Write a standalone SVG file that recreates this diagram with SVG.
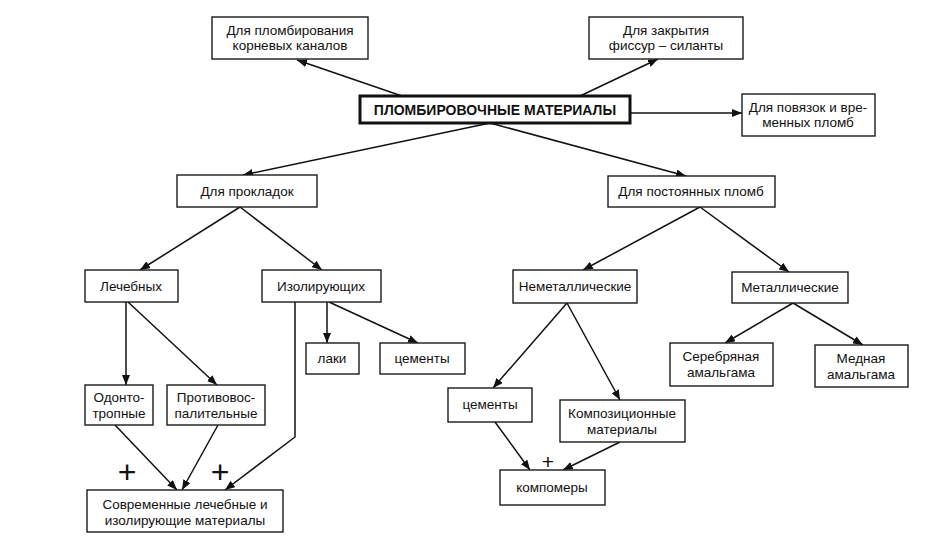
<svg xmlns="http://www.w3.org/2000/svg" width="946" height="546" viewBox="0 0 946 546">
<defs>
<marker id="ah" markerUnits="userSpaceOnUse" markerWidth="10" markerHeight="8" refX="10" refY="4" orient="auto">
<path d="M0,0 L10,4 L0,8 z" fill="#111"/>
</marker>
<style>
.b{fill:#fff;stroke:#1a1a1a;stroke-width:1.4}
.r{fill:#fff;stroke:#111;stroke-width:3}
.t{font-family:"Liberation Sans",Arial,sans-serif;font-size:13.5px;fill:#111;text-anchor:middle}
.tb{font-family:"Liberation Sans",Arial,sans-serif;font-size:14px;font-weight:bold;fill:#111;text-anchor:middle}
.c{fill:none;stroke:#111;stroke-width:1.5;marker-end:url(#ah)}
.p{font-family:"Liberation Sans",Arial,sans-serif;fill:#111;text-anchor:middle}
</style>
</defs>
<rect width="946" height="546" fill="#fff"/>
<g id="connectors">
<path class="c" d="M402,96 L297,60"/>
<path class="c" d="M580,96 L658,59"/>
<path class="c" d="M630,113 L742,113"/>
<path class="c" d="M490,123 L243,175"/>
<path class="c" d="M490,123 L686,176"/>
<path class="c" d="M240,207 L140,270"/>
<path class="c" d="M240,207 L322,270"/>
<path class="c" d="M700,207 L583,270"/>
<path class="c" d="M700,207 L789,272"/>
<path class="c" d="M126,302 L126,385"/>
<path class="c" d="M128,302 L217,385"/>
<path class="c" d="M327,302 L327,343"/>
<path class="c" d="M329,302 L418,343"/>
<path class="c" d="M295,302 L295,437 L225,490"/>
<path class="c" d="M115,425 L177,490"/>
<path class="c" d="M218,425 L182,490"/>
<path class="c" d="M567,303 L493,388"/>
<path class="c" d="M567,303 L620,400"/>
<path class="c" d="M495,422 L530,470"/>
<path class="c" d="M620,442 L563,470"/>
<path class="c" d="M793,303 L725,343"/>
<path class="c" d="M793,303 L863,345"/>
</g>
<g id="n_root"><rect class="r" x="360" y="96" width="270" height="27"/><text class="tb" x="495" y="115">ПЛОМБИРОВОЧНЫЕ МАТЕРИАЛЫ</text></g>
<g id="n_kornevye"><rect class="b" x="212" y="17" width="156" height="42"/><text class="t" x="290" y="35">Для пломбирования</text><text class="t" x="290" y="50">корневых каналов</text></g>
<g id="n_fissury"><rect class="b" x="589" y="17" width="154" height="42"/><text class="t" x="666" y="35">Для закрытия</text><text class="t" x="666" y="50">фиссур – силанты</text></g>
<g id="n_povyazki"><rect class="b" x="742" y="94" width="133" height="42"/><text class="t" x="808" y="112">Для повязок и вре-</text><text class="t" x="808" y="127">менных пломб</text></g>
<g id="n_prokladki"><rect class="b" x="177" y="175" width="140" height="32"/><text class="t" x="247" y="196">Для прокладок</text></g>
<g id="n_postoyannye"><rect class="b" x="608" y="176" width="167" height="31"/><text class="t" x="691" y="196">Для постоянных пломб</text></g>
<g id="n_lechebnye"><rect class="b" x="85" y="270" width="93" height="32"/><text class="t" x="131" y="291">Лечебных</text></g>
<g id="n_izol"><rect class="b" x="262" y="270" width="119" height="32"/><text class="t" x="321" y="291">Изолирующих</text></g>
<g id="n_nemet"><rect class="b" x="513" y="270" width="124" height="33"/><text class="t" x="575" y="291">Неметаллические</text></g>
<g id="n_met"><rect class="b" x="732" y="272" width="116" height="31"/><text class="t" x="790" y="292">Металлические</text></g>
<g id="n_odonto"><rect class="b" x="85" y="385" width="68" height="40"/><text class="t" x="119" y="402">Одонто-</text><text class="t" x="119" y="418">тропные</text></g>
<g id="n_protivo"><rect class="b" x="167" y="385" width="98" height="40"/><text class="t" x="216" y="402">Противовос-</text><text class="t" x="216" y="418">палительные</text></g>
<g id="n_laki"><rect class="b" x="306" y="343" width="53" height="31"/><text class="t" x="332" y="363">лаки</text></g>
<g id="n_cement1"><rect class="b" x="380" y="343" width="85" height="31"/><text class="t" x="422" y="363">цементы</text></g>
<g id="n_sovr"><rect class="b" x="87" y="490" width="196" height="42"/><text class="t" x="185" y="509">Современные лечебные и</text><text class="t" x="185" y="525">изолирующие материалы</text></g>
<g id="n_cement2"><rect class="b" x="448" y="388" width="84" height="34"/><text class="t" x="490" y="409">цементы</text></g>
<g id="n_kompoz"><rect class="b" x="560" y="400" width="125" height="42"/><text class="t" x="622" y="418">Композиционные</text><text class="t" x="622" y="434">материалы</text></g>
<g id="n_kompomery"><rect class="b" x="500" y="470" width="105" height="35"/><text class="t" x="552" y="492">компомеры</text></g>
<g id="n_serebr"><rect class="b" x="670" y="343" width="103" height="43"/><text class="t" x="721" y="361">Серебряная</text><text class="t" x="721" y="377">амальгама</text></g>
<g id="n_mednaya"><rect class="b" x="815" y="345" width="93" height="42"/><text class="t" x="861" y="363">Медная</text><text class="t" x="861" y="379">амальгама</text></g>
<g id="marks">
<text class="p" x="127" y="483" font-size="32">+</text>
<text class="p" x="220" y="483" font-size="32">+</text>
<text class="p" x="548" y="469" font-size="21">+</text>
</g>
</svg>
